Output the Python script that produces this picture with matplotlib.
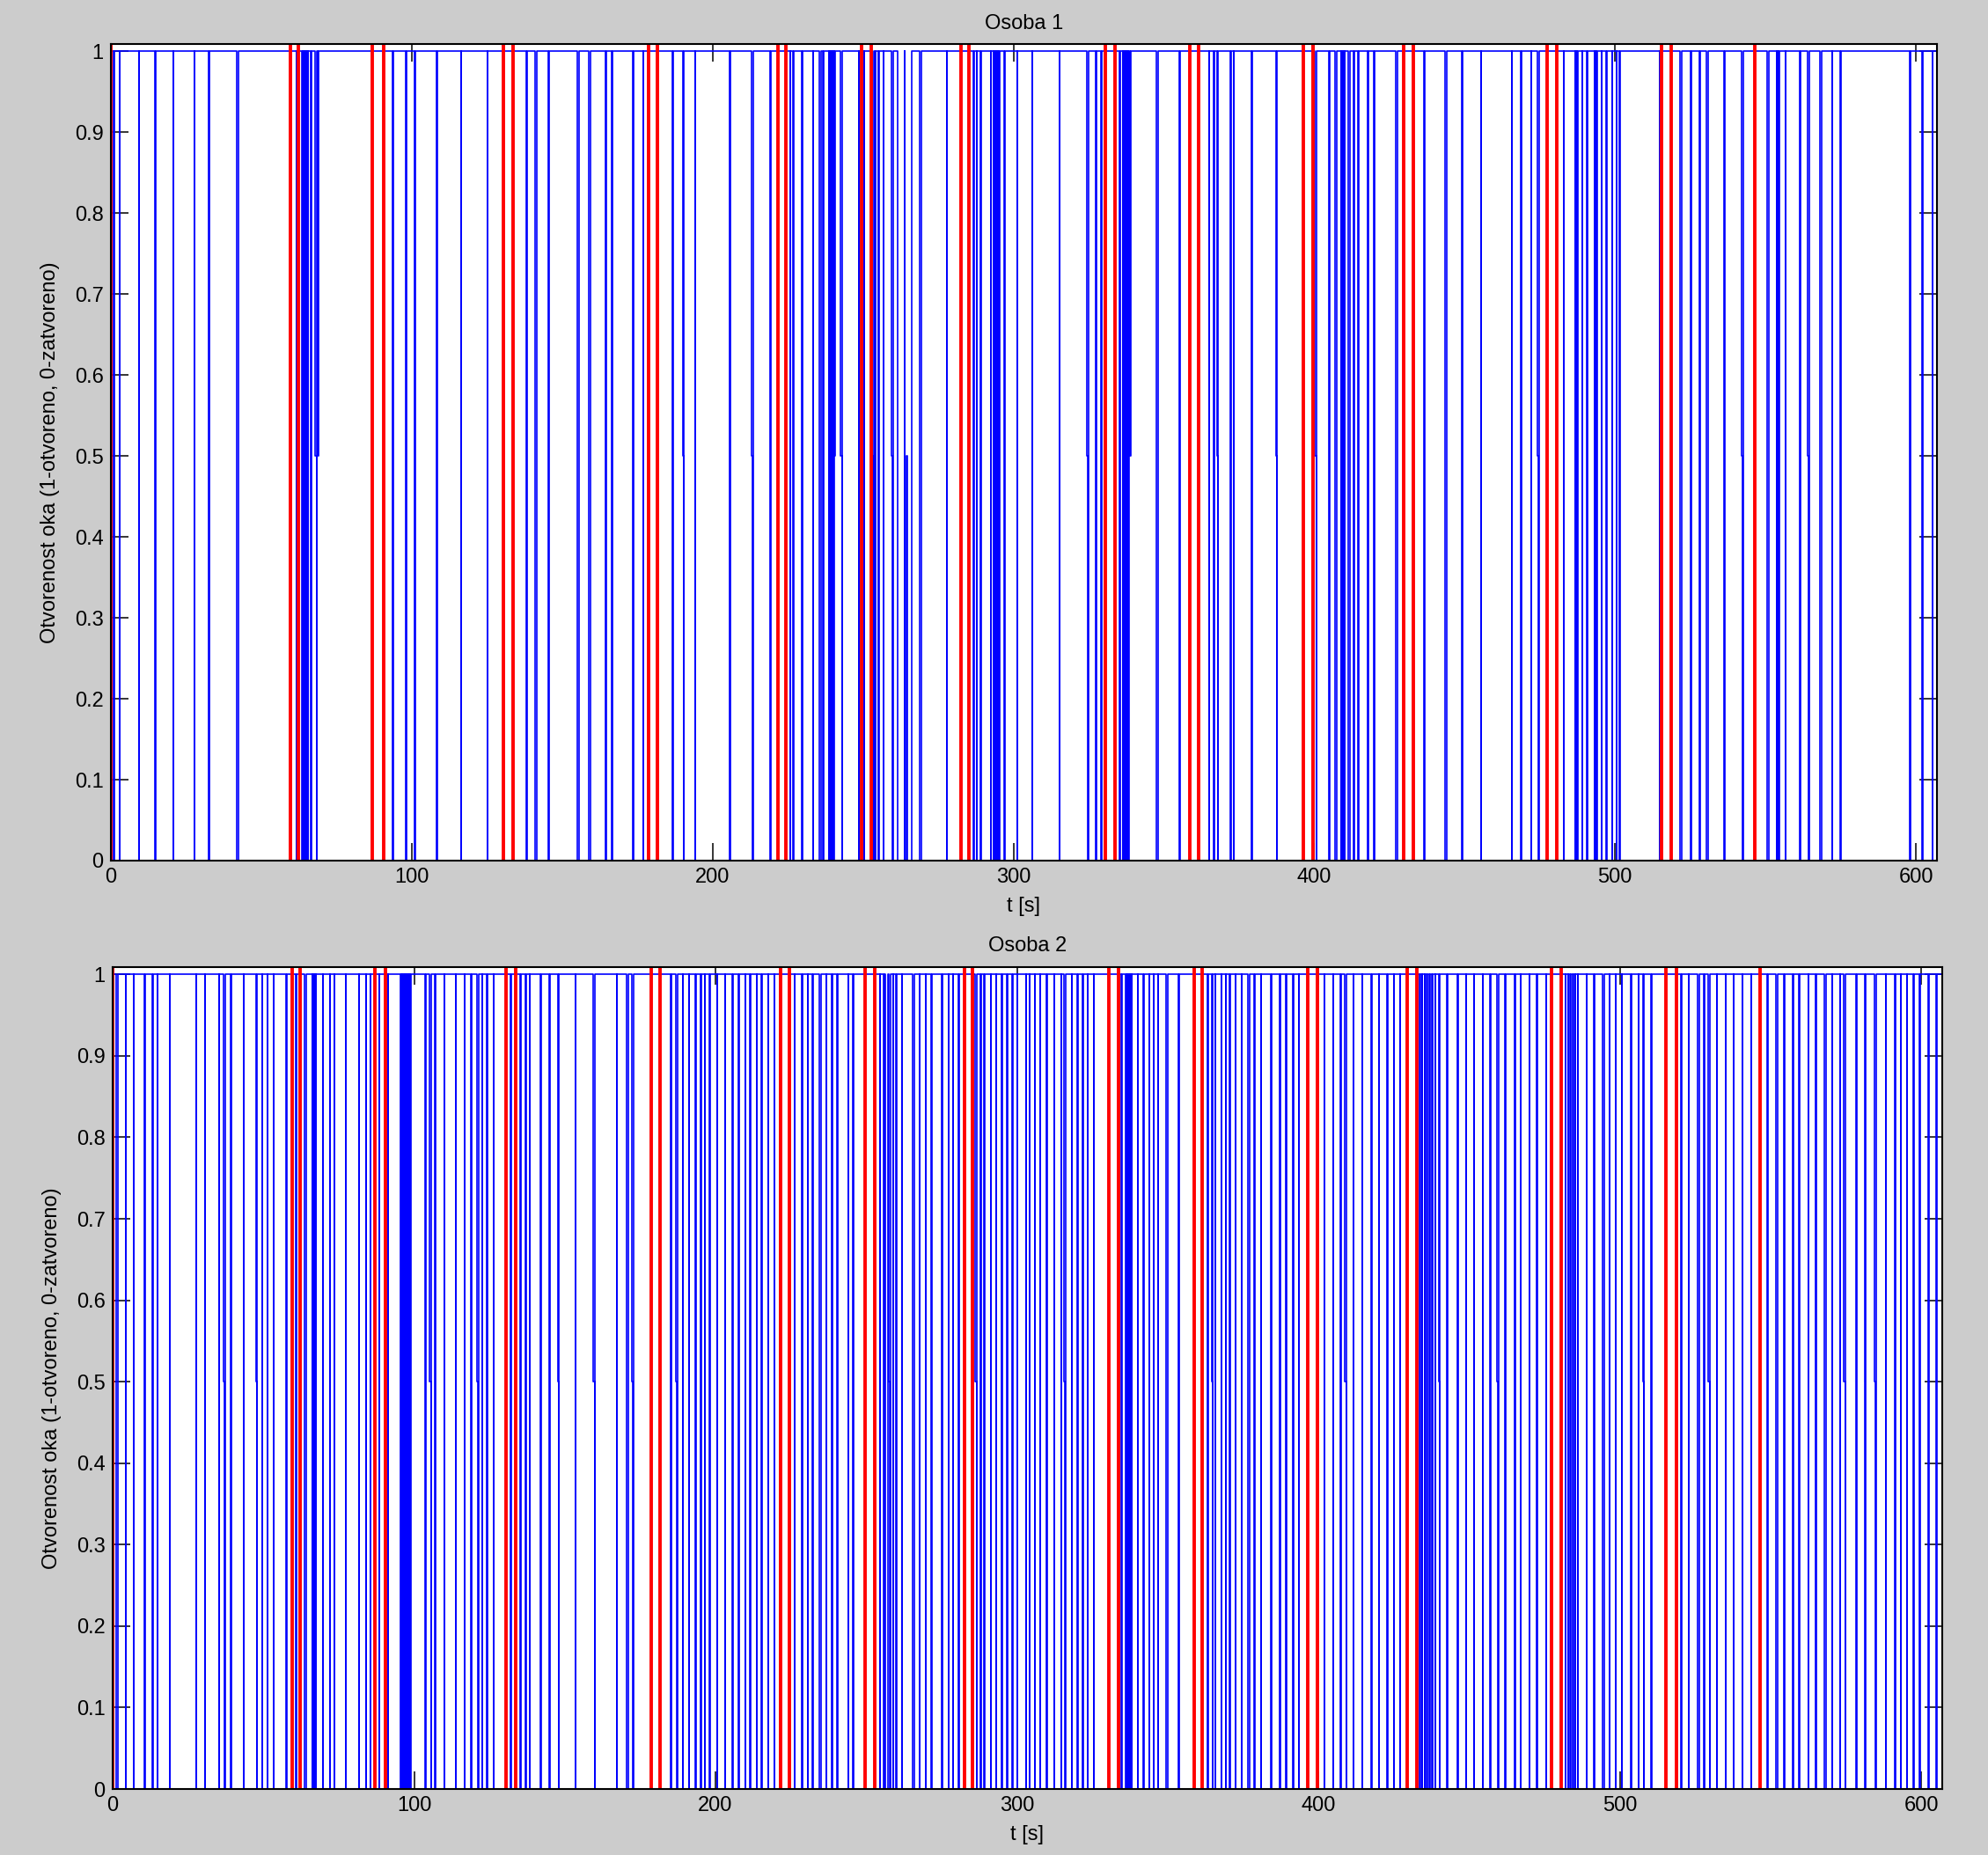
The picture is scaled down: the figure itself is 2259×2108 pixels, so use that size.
import matplotlib
matplotlib.use('Agg')
import matplotlib.pyplot as plt

plt.rcParams['font.family'] = ['Liberation Sans', 'DejaVu Sans']

W, H = 2259, 2108
T_END = 607.0

titles = ['Osoba 1', 'Osoba 2']
x_label = 't [s]'
y_label = 'Otvorenost oka (1-otvoreno, 0-zatvoreno)'
x_ticks = [0, 100, 200, 300, 400, 500, 600]
y_ticks = [0, 0.1, 0.2, 0.3, 0.4, 0.5, 0.6, 0.7, 0.8, 0.9, 1.0]
y_tick_labels = ['0', '0.1', '0.2', '0.3', '0.4', '0.5', '0.6', '0.7', '0.8', '0.9', '1']

# red marker times (same in both panels)
red_times = [0.0, 59.7, 62.3, 87.0, 90.6, 130.4, 133.6, 178.8, 181.6, 221.7, 224.5,
             249.5, 252.8, 282.7, 285.3, 330.5, 333.8, 358.7, 361.5, 396.4, 399.6,
             429.6, 432.8, 477.4, 480.7, 515.4, 518.8, 546.5]

# Event durations (s) for the different kinds of closure
THIN_LEN = 0.12      # short full blink
THICK_LEN = 0.45     # longer full blink
HALF_LEN = 0.40      # time spent at 0.5 before a full closure
HALFONLY_LEN = 0.20  # brief half closure

# ---------------- Osoba 1 ----------------
p1_thin = [0.95, 2.80, 9.25, 14.75, 20.75, 27.75, 32.55, 61.65, 63.55, 63.95, 64.35,
           64.75, 65.15, 65.5, 66.55, 93.65, 101.05, 108.35, 116.45, 125.15, 138.15,
           166.55, 173.55, 176.95, 186.75, 194.15, 205.75, 219.25, 225.85, 226.75,
           233.45, 238.6, 239.0, 239.4, 239.8, 240.2, 248.65, 250.35, 254.05, 255.15,
           256.85, 277.85, 286.75, 287.85, 292.55, 293.4, 293.8, 294.2, 294.6, 295.0,
           295.3, 297.05, 301.25, 306.25, 315.35, 327.45, 329.15, 335.35, 336.4, 336.8,
           337.2, 337.6, 338.0, 338.3, 355.25, 364.95, 366.65, 372.15, 373.25, 379.15,
           408.9, 409.3, 409.7, 410.05, 414.55, 417.85, 419.85, 455.4, 465.65, 472.05,
           482.95, 486.7, 487.1, 487.45, 489.05, 490.65, 493.1, 493.5, 493.85, 495.55,
           497.05, 498.95, 500.45, 501.45, 514.75, 528.15, 536.35, 553.7, 554.1, 554.45,
           556.65, 561.45, 572.15, 574.95, 598.05, 602.15, 605.45]
p1_thick = [41.9, 97.95, 141.05, 145.3, 155.05, 158.95, 164.35, 229.55, 235.6, 236.6,
            268.85, 288.9, 347.65, 404.8, 406.9, 411.3, 413.0, 427.1, 436.4, 443.5,
            448.9, 468.5, 521.6, 525.0, 530.4, 550.6, 568.1]
p1_half = [68.0, 190.0, 212.9, 242.65, 253.05, 259.5, 324.45, 367.6, 387.2, 400.25,
           474.2, 542.0, 564.0]
p1_halfonly = [68.75, 240.55, 264.5, 338.75]
p1_long_start = [261.6, 264.0, 264.7]
p1_long_end = [263.9, 264.5, 266.3]

# ---------------- Osoba 2 ----------------
p2_thin = [0.0, 4.25, 6.95, 13.25, 14.75, 18.85, 27.65, 30.65, 35.25, 39.15, 43.45,
           49.65, 51.35, 53.45, 57.55, 60.85, 66.2, 66.6, 67.0, 67.4, 69.75, 72.05,
           73.55, 77.25, 81.65, 83.95, 85.45, 88.45, 91.35, 95.6, 96.0, 96.4, 96.8,
           97.2, 97.6, 98.0, 98.4, 98.75, 103.75, 106.95, 109.95, 113.75, 116.75,
           118.95, 122.65, 124.15, 126.35, 132.05, 135.25, 137.05, 138.25, 141.95,
           144.95, 153.55, 167.25, 185.15, 189.15, 191.15, 193.35, 195.15, 196.4,
           198.0, 200.6, 203.1, 205.6, 207.7, 209.8, 211.5, 213.6, 215.3, 217.4,
           219.5, 226.25, 228.65, 230.65, 232.25, 236.65, 238.65, 240.35, 244.05,
           245.65, 254.45, 255.85, 258.85, 259.95, 261.75, 267.65, 269.65, 271.65,
           277.25, 278.85, 280.65, 287.95, 291.35, 293.15, 294.95, 296.75, 298.45,
           300.15, 303.05, 304.25, 305.95, 307.75, 309.85, 312.35, 314.75, 318.15,
           320.05, 321.85, 323.45, 325.45, 334.65, 336.2, 336.6, 337.0, 337.4, 337.8,
           338.1, 340.05, 341.95, 343.95, 345.35, 346.85, 353.65, 363.35, 365.85,
           367.75, 369.25, 370.65, 372.5, 374.6, 378.8, 380.9, 384.3, 387.2, 389.3,
           393.5, 401.9, 404.9, 407.4, 411.6, 414.5, 420.0, 422.9, 425.0, 427.1,
           433.6, 434.4, 435.2, 436.0, 436.9, 437.8, 438.7, 442.7,
           449.0, 451.6, 454.5, 457.0, 462.0, 467.1, 470.0, 472.5, 475.5, 482.0,
           482.8, 483.6, 484.4, 485.2, 486.0, 488.9, 491.5,
           496.5, 498.6, 500.7, 503.7, 506.2, 510.4, 520.4, 522.9, 528.0, 532.2,
           535.2, 537.7, 540.7, 543.6, 549.0, 554.5, 557.4, 559.5, 562.5, 565.0,
           570.5, 573.0, 578.5, 581.4, 588.2, 593.2, 595.3, 597.4, 599.5, 602.4,
           605.0]
p2_thick = [1.2, 10.4, 63.7, 170.6, 234.5, 265.5, 275.0, 289.0, 349.6, 376.7, 391.4,
            417.5, 446.1, 465.0, 494.4, 525.9, 551.9, 568.0, 591.1]
p2_half = [36.75, 47.45, 105.25, 120.85, 147.65, 159.55, 172.25, 186.85, 257.55,
           286.25, 315.65, 364.55, 408.8, 439.9, 459.2, 507.6, 529.4, 574.4, 584.5]
p2_halfonly = []
p2_long_start = [256.4]
p2_long_end = [257.3]


def collect_events(thin, thick, half, halfonly, long_s, long_e):
    ev = []
    ev += [(t, THIN_LEN, 0.0) for t in thin]
    ev += [(t, THICK_LEN, 0.0) for t in thick]
    for t in half:
        ev.append((t, HALF_LEN, 0.5))
        ev.append((t + HALF_LEN, THIN_LEN, 0.0))
    ev += [(t, HALFONLY_LEN, 0.5) for t in halfonly]
    ev += [(s, e - s, 0.0) for s, e in zip(long_s, long_e)]
    return sorted(ev)


def build_signal(ev, t_end):
    xs, ys = [ev[0][0]], [1.0]
    for i, (s, d, v) in enumerate(ev):
        xs.append(s)
        ys.append(v)
        nxt = ev[i + 1][0] if i + 1 < len(ev) else None
        if nxt is None or nxt > s + d + 1e-6:
            xs.append(s + d)
            ys.append(1.0)
    xs.append(t_end)
    ys.append(1.0)
    return xs, ys


fig = plt.figure(figsize=(W / 100, H / 100), dpi=100, facecolor='#cccccc')
ax1 = fig.add_axes([126 / W, 1 - 978 / H, 2075 / W, 928 / H])
ax2 = fig.add_axes([128 / W, 1 - 2033 / H, 2079 / W, 934 / H])

ev1 = collect_events(p1_thin, p1_thick, p1_half, p1_halfonly, p1_long_start, p1_long_end)
ev2 = collect_events(p2_thin, p2_thick, p2_half, p2_halfonly, p2_long_start, p2_long_end)

for ax, ev, title, tpad in [(ax1, ev1, titles[0], 12.5), (ax2, ev2, titles[1], 13)]:
    ax.set_facecolor('white')
    xs, ys = build_signal(ev, T_END)
    ax.plot(xs, ys, drawstyle='steps-post', color='#0000ff', lw=1.2, zorder=2)
    for r in red_times:
        ax.axvline(r, color='#ff0000', lw=2.8, zorder=3)
    ax.set_xlim(0, T_END)
    ax.set_ylim(0, 1.009)
    ax.set_xticks(x_ticks)
    ax.set_yticks(y_ticks)
    ax.set_yticklabels(y_tick_labels)
    ax.tick_params(direction='in', length=14.5, width=1.1, top=True, right=True,
                   labelsize=17, pad=6, colors='black')
    for sp in ax.spines.values():
        sp.set_linewidth(1.5)
        sp.set_color('black')
        sp.set_zorder(4)
    ax.set_xlabel(x_label, fontsize=17, labelpad=8)
    ax.set_ylabel(y_label, fontsize=17, labelpad=12)
    ax.set_title(title, fontsize=17, pad=tpad)

fig.savefig('out.png', dpi=100, facecolor=fig.get_facecolor())
